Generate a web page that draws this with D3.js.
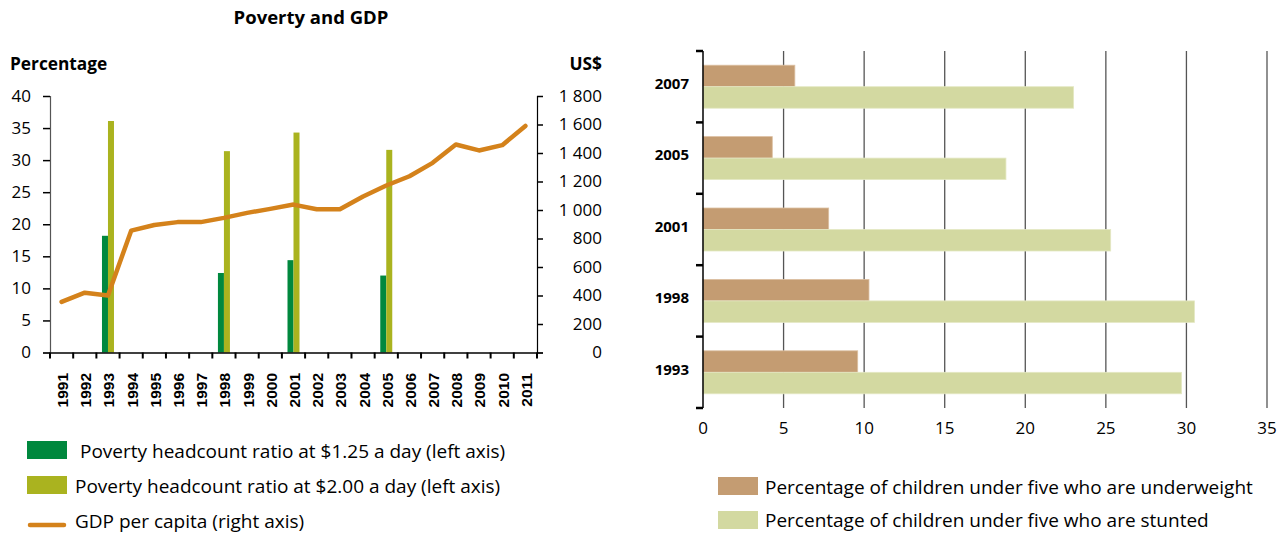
<!DOCTYPE html>
<html>
<head>
<meta charset="utf-8">
<script src="https://cdn.jsdelivr.net/npm/d3@7"></script>
<style>
  html, body { margin: 0; padding: 0; background: #fff; }
  svg { display: block; font-family: "Open Sans", "Noto Sans", sans-serif; }
</style>
</head>
<body>
<svg id="chart" width="1278" height="533"></svg>
<script>
// ---------- Data ----------
const years = ["1991","1992","1993","1994","1995","1996","1997","1998","1999","2000","2001","2002","2003","2004","2005","2006","2007","2008","2009","2010","2011"];
const gdpPerCapita = [355, 420, 400, 855, 895, 915, 915, 945, 980, 1008, 1038, 1005, 1005, 1095, 1172, 1237, 1331, 1460, 1418, 1455, 1590];
const povertyYears = ["1993", "1998", "2001", "2005"];
const poverty125 = [18.2, 12.4, 14.4, 12.0];
const poverty200 = [36.1, 31.4, 34.3, 31.6];
const leftTicks = [0, 5, 10, 15, 20, 25, 30, 35, 40];
const rightTicks = [0, 200, 400, 600, 800, 1000, 1200, 1400, 1600, 1800];

const childYears = ["2007", "2005", "2001", "1998", "1993"];
const underweight = [5.7, 4.3, 7.8, 10.3, 9.6];
const stunted = [23.0, 18.8, 25.3, 30.5, 29.7];
const childTicks = [0, 5, 10, 15, 20, 25, 30, 35];

const leftLegend = ["Poverty headcount ratio at $1.25 a day (left axis)", "Poverty headcount ratio at $2.00 a day (left axis)", "GDP per capita (right axis)"];
const rightLegend = ["Percentage of children under five who are underweight", "Percentage of children under five who are stunted"];

const C_GREEN = "#00883e", C_OLIVE = "#aab31f", C_ORANGE = "#d4821b";
const C_UNDER = "#c49c72", C_STUNT = "#d3d9a1";
const TICK_FS = 17, LEG_FS = 19;

const svg = d3.select("#chart");

// ---------- Left chart ----------
const L = {x0: 50, x1: 537, y0: 352.5, y1: 96};
const x = d3.scaleBand().domain(years).range([L.x0, L.x1]).padding(0);
const yL = d3.scaleLinear().domain([0, 40]).range([L.y0, L.y1]);
const yR = d3.scaleLinear().domain([0, 1800]).range([L.y0, L.y1]);
const bw = x.bandwidth();
const sub = d3.scaleBand().domain(["p125", "p200"]).range([bw / 2 - 6, bw / 2 + 6]);

svg.append("text").attr("x", 311).attr("y", 24).attr("text-anchor", "middle")
  .attr("font-weight", "bold").attr("font-size", 18.5).text("Poverty and GDP");
svg.append("text").attr("x", 10).attr("y", 70)
  .attr("font-weight", "bold").attr("font-size", 17.3).text("Percentage");
svg.append("text").attr("x", 602).attr("y", 70).attr("text-anchor", "end")
  .attr("font-weight", "bold").attr("font-size", 17.3).text("US$");

// bars
const gBars = svg.append("g");
povertyYears.forEach((yr, i) => {
  gBars.append("rect").attr("x", x(yr) + sub("p125")).attr("width", sub.bandwidth())
    .attr("y", yL(poverty125[i])).attr("height", yL(0) - yL(poverty125[i])).attr("fill", C_GREEN);
  gBars.append("rect").attr("x", x(yr) + sub("p200")).attr("width", sub.bandwidth())
    .attr("y", yL(poverty200[i])).attr("height", yL(0) - yL(poverty200[i])).attr("fill", C_OLIVE);
});

// GDP line
const line = d3.line().x((d, i) => x(years[i]) + bw / 2).y(d => yR(d));
svg.append("path").datum(gdpPerCapita).attr("d", line).attr("fill", "none")
  .attr("stroke", C_ORANGE).attr("stroke-width", 4.5).attr("stroke-linejoin", "round").attr("stroke-linecap", "round");

// left axis
const axL = svg.append("g").attr("transform", `translate(${L.x0},0)`)
  .call(d3.axisLeft(yL).tickValues(leftTicks).tickSize(7).tickPadding(12).tickFormat(d3.format("d")));
axL.select(".domain").attr("stroke", "#555").attr("stroke-width", 1.2);
axL.selectAll(".tick line").attr("stroke", "#000").attr("stroke-width", 1.5);
axL.selectAll("text").attr("font-size", TICK_FS).attr("fill", "#000").attr("font-family", "Open Sans");

// right axis
const fmtSpace = d => d >= 1000 ? Math.floor(d / 1000) + " " + d3.format("03d")(d % 1000) : String(d);
const axR = svg.append("g").attr("transform", `translate(${L.x1},0)`)
  .call(d3.axisRight(yR).tickValues(rightTicks).tickSize(6).tickFormat(fmtSpace));
axR.select(".domain").attr("stroke", "#000").attr("stroke-width", 1.2);
axR.selectAll(".tick line").attr("stroke", "#000").attr("stroke-width", 1.5);
axR.selectAll("text").attr("font-size", TICK_FS).attr("fill", "#000").attr("text-anchor", "end")
  .attr("x", 602 - L.x1).attr("font-family", "Open Sans").style("white-space", "pre");

// x axis
const axX = svg.append("g").attr("transform", `translate(0,${L.y0})`)
  .call(d3.axisBottom(x).tickSize(0).tickFormat(""));
axX.select(".domain").attr("stroke", "#000").attr("stroke-width", 1.5);
const bounds = years.map(y => x(y)).concat([L.x1]);
axX.selectAll("line.bt").data(bounds).join("line").attr("class", "bt")
  .attr("x1", d => d).attr("x2", d => d).attr("y1", 0).attr("y2", 6)
  .attr("stroke", "#000").attr("stroke-width", 2);
axX.selectAll("text.yl").data(years).join("text").attr("class", "yl")
  .attr("transform", d => `translate(${x(d) + bw / 2 + 1},${373 - L.y0}) rotate(-90)`)
  .attr("text-anchor", "end").attr("dy", "0.35em")
  .attr("font-size", 15.5).attr("font-weight", "bold").attr("fill", "#000").text(d => d);

// left legend
const lg = svg.append("g");
lg.append("rect").attr("x", 27).attr("y", 441).attr("width", 40).attr("height", 18).attr("fill", C_GREEN);
lg.append("text").attr("x", 80).attr("y", 457.5).attr("font-size", LEG_FS).text(leftLegend[0]);
lg.append("rect").attr("x", 27).attr("y", 476).attr("width", 40).attr("height", 18).attr("fill", C_OLIVE);
lg.append("text").attr("x", 75).attr("y", 492.5).attr("font-size", LEG_FS).text(leftLegend[1]);
lg.append("line").attr("x1", 30).attr("x2", 64).attr("y1", 525).attr("y2", 525)
  .attr("stroke", C_ORANGE).attr("stroke-width", 4.5).attr("stroke-linecap", "round");
lg.append("text").attr("x", 75).attr("y", 527.5).attr("font-size", LEG_FS).text(leftLegend[2]);

// ---------- Right chart ----------
const R = {x0: 703, x1: 1267, y0: 51, y1: 408};
const xc = d3.scaleLinear().domain([0, 35]).range([R.x0, R.x1]);
const yc = d3.scaleBand().domain(childYears).range([R.y0, R.y1]).padding(0);
const bh = yc.bandwidth();
const subc = d3.scaleBand().domain(["u", "s"]).range([bh / 2 - 21.5, bh / 2 + 21.5]);

// grid
svg.append("g").selectAll("line").data(childTicks.filter(d => d > 0)).join("line")
  .attr("x1", d => xc(d)).attr("x2", d => xc(d)).attr("y1", R.y0).attr("y2", R.y1)
  .attr("stroke", "#555").attr("stroke-width", 1.3);

// bars
const gc = svg.append("g");
childYears.forEach((yr, i) => {
  gc.append("rect").attr("x", xc(0)).attr("y", yc(yr) + subc("u"))
    .attr("width", xc(underweight[i]) - xc(0)).attr("height", subc.bandwidth())
    .attr("fill", C_UNDER).attr("stroke", "#dcc0a2").attr("stroke-width", 0.8);
  gc.append("rect").attr("x", xc(0)).attr("y", yc(yr) + subc("s"))
    .attr("width", xc(stunted[i]) - xc(0)).attr("height", subc.bandwidth())
    .attr("fill", C_STUNT).attr("stroke", "#e4e8c4").attr("stroke-width", 0.8);
});

// y axis
const ay = svg.append("g").attr("transform", `translate(${R.x0},0)`);
ay.append("line").attr("x1", 0).attr("x2", 0).attr("y1", R.y0).attr("y2", R.y1)
  .attr("stroke", "#000").attr("stroke-width", 1.5);
const yb = childYears.map(y => yc(y)).concat([R.y1]);
ay.selectAll("line.t").data(yb).join("line").attr("class", "t")
  .attr("x1", -7).attr("x2", 0).attr("y1", d => d).attr("y2", d => d)
  .attr("stroke", "#000").attr("stroke-width", 2.5);
ay.selectAll("text").data(childYears).join("text")
  .attr("x", -14).attr("y", d => yc(d) + bh / 2 - 3).attr("dy", "0.35em")
  .attr("text-anchor", "end").attr("font-weight", "bold").attr("font-size", 15).text(d => d);

// x axis labels
svg.append("g").selectAll("text").data(childTicks).join("text")
  .attr("x", d => xc(d)).attr("y", 434).attr("text-anchor", "middle")
  .attr("font-size", TICK_FS).text(d => d);

// right legend
const rg = svg.append("g");
rg.append("rect").attr("x", 718).attr("y", 477).attr("width", 40).attr("height", 18).attr("fill", C_UNDER);
rg.append("text").attr("x", 765).attr("y", 493.5).attr("font-size", LEG_FS).text(rightLegend[0]);
rg.append("rect").attr("x", 718).attr("y", 511).attr("width", 40).attr("height", 18).attr("fill", C_STUNT);
rg.append("text").attr("x", 765).attr("y", 527).attr("font-size", LEG_FS).text(rightLegend[1]);
</script>
</body>
</html>
